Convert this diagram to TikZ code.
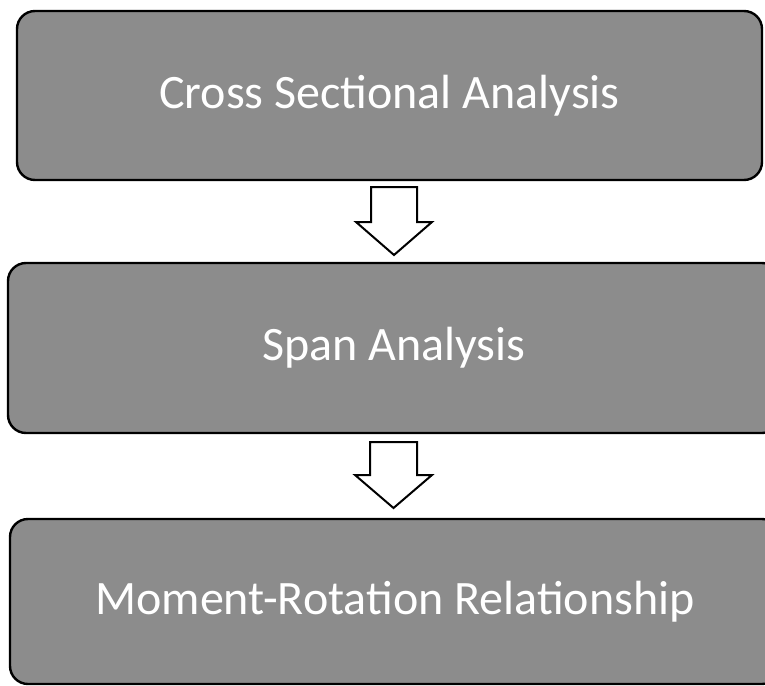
\documentclass[tikz,border=0pt]{standalone}
\usepackage{fontspec}
\setmainfont{Carlito}
\begin{document}
\begin{tikzpicture}[x=1pt,y=-1pt,
  stagebox/.style={draw=black, line width=2.4pt, rounded corners=18pt,
    fill=black!45, text=white, inner sep=0pt,
    font=\fontsize{48}{52}\selectfont},
  flowarrow/.style={draw=black, line width=2pt, fill=white, line join=miter}]
  \useasboundingbox (0,0) rectangle (765,685);
  \clip (0,0) rectangle (765,685);

  % stages of the procedure
  \node[stagebox, minimum width=745pt, minimum height=169pt]
    (cross) at (389.5,95.5) {Cross Sectional Analysis};
  \node[stagebox, minimum width=772pt, minimum height=170pt]
    (span) at (394,348) {Span Analysis};
  \node[stagebox, minimum width=770pt, minimum height=165pt]
    (moment) at (395,601.5) {Moment-Rotation Relationship};

  % hollow block arrows between the stages
  \coordinate (a1) at (394,187);
  \draw[flowarrow] ([xshift=-23pt]a1) -- ([xshift=23pt]a1)
    -- ++(0,35) -- ++(15,0) -- (394,255) -- (356,222) -- (371,222) -- cycle;
  \coordinate (a2) at (393.5,442);
  \draw[flowarrow] ([xshift=-23.5pt]a2) -- ([xshift=23.5pt]a2)
    -- ++(0,33) -- ++(15,0) -- (393.5,508) -- (355,475) -- (370,475) -- cycle;
\end{tikzpicture}
\end{document}
